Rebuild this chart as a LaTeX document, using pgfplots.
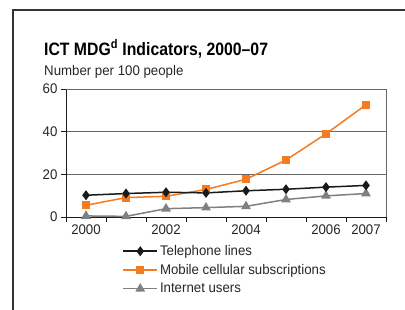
\documentclass[border=0pt]{standalone}
\usepackage{pgfplots}
\pgfplotsset{compat=1.18}
\usepackage{fontspec}
\setmainfont{Liberation Sans}[FakeStretch=0.95]
\newfontfamily\titlefont{Liberation Sans}[FakeStretch=0.88, Ligatures=TeX]
\definecolor{orng}{HTML}{F47B20}
\definecolor{gry}{HTML}{808080}
\definecolor{blk}{HTML}{1A1A1A}
\definecolor{frame}{HTML}{333333}
\begin{document}
\begin{tikzpicture}[x=1bp,y=1bp]
\useasboundingbox (0,0) rectangle (405,310);
\draw[frame, line width=1.3bp] (13,0) -- (13,300) -- (405,300);
\node[anchor=base west, inner sep=0pt, font=\titlefont\fontsize{18}{20}\selectfont\bfseries] at (44,255) {ICT MDG\textsuperscript{d} Indicators, 2000–07};
\node[anchor=base west, inner sep=0pt, font=\fontsize{14}{16}\selectfont, text=black!85] at (44,235) {Number per 100 people};
\begin{axis}[
  at={(66bp,93bp)}, anchor=south west,
  width=320bp, height=128bp, scale only axis,
  xmin=0, xmax=8, ymin=0, ymax=60,
  axis lines*=left,
  axis line style={blk, line width=0.8bp},
  xtick={0,...,8}, xticklabels={},
  extra x ticks={0.5,2.5,4.5,6.5,7.5},
  extra x tick labels={2000,2002,2004,2006,2007},
  extra x tick style={major tick length=0pt, grid=none, xticklabel style={yshift=-4bp}},
  ytick={0,20,40,60},
  tick align=outside,
  major tick length=5bp,
  tick style={blk, line width=0.8bp},
  ymajorgrids, grid style={gry!80!black, line width=0.9bp},
  ticklabel style={font=\fontsize{14}{16}\selectfont, text=black!85},
  /pgf/number format/assume math mode=true,
  legend style={at={(0.176,-0.205)}, anchor=north west, draw=none, fill=none,
    font=\fontsize{14}{16}\selectfont, text=black!85, row sep=3.3bp, inner sep=0pt},
  legend cell align=left,
  reverse legend,
  legend image code/.code={\draw[mark repeat=2, mark phase=2, #1] plot coordinates {(0bp,0bp) (17bp,0bp) (34bp,0bp)};},
  after end axis/.code={\draw[gry!80!black, line width=0.9bp] (rel axis cs:0,1) -- (rel axis cs:1,1) -- (rel axis cs:1,0);},
  clip=false,
]
\addplot[gry, line width=1.5bp, mark=triangle*, mark size=4.2bp, mark options={fill=gry, draw=gry}] coordinates {
(0.5,0.5) (1.5,0.3) (2.5,3.9) (3.5,4.4) (4.5,5.0) (5.5,8.2) (6.5,9.9) (7.5,11.0)};
\addlegendentry{Internet users}
\addplot[orng, line width=1.5bp, mark=square*, mark size=3.4bp, mark options={fill=orng, draw=orng}] coordinates {
(0.5,5.5) (1.5,9.1) (2.5,9.7) (3.5,12.9) (4.5,17.7) (5.5,26.7) (6.5,39.0) (7.5,52.6)};
\addlegendentry{Mobile cellular subscriptions}
\addplot[blk, line width=1.5bp, mark=diamond*, mark size=3.8bp, mark options={fill=blk, draw=blk}] coordinates {
(0.5,10.2) (1.5,11.0) (2.5,11.6) (3.5,11.3) (4.5,12.3) (5.5,13.0) (6.5,14.0) (7.5,14.8)};
\addlegendentry{Telephone lines}
\end{axis}
\end{tikzpicture}
\end{document}
